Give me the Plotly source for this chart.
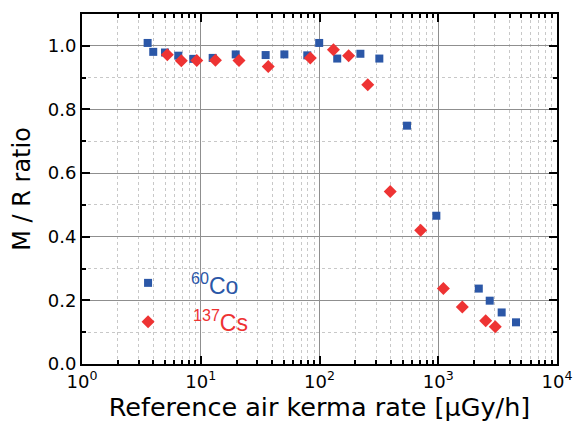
import plotly.graph_objects as go

co_x = [3.57, 3.98, 5.0, 6.47, 8.65, 12.6, 19.7, 35.2, 50.6, 78.9, 99.4, 141, 221, 319, 546, 964, 2195, 2713, 3420, 4518]
co_y = [1.009, 0.981, 0.979, 0.969, 0.959, 0.962, 0.973, 0.971, 0.973, 0.970, 1.009, 0.960, 0.975, 0.960, 0.749, 0.466, 0.237, 0.199, 0.162, 0.131]
cs_x = [5.23, 6.86, 9.25, 13.3, 21.0, 37.0, 83.7, 131, 176, 255, 394, 711, 1104, 1595, 2510, 3020]
cs_y = [0.972, 0.953, 0.954, 0.955, 0.954, 0.935, 0.962, 0.988, 0.969, 0.878, 0.542, 0.420, 0.237, 0.179, 0.136, 0.117]

legend_x = [3.6]
legend_co_y = [0.255]
legend_cs_y = [0.133]

x_tickvals = [1, 10, 100, 1000, 10000]
x_ticktext = ["10<sup>0</sup>", "10<sup>1</sup>", "10<sup>2</sup>", "10<sup>3</sup>", "10<sup>4</sup>"]

BLUE = "#2B57A7"
RED = "#EE3333"
FONT = "DejaVu Sans"
LFONT = "Liberation Sans"

fig = go.Figure()
fig.add_trace(go.Scatter(x=co_x, y=co_y, mode="markers",
                         marker=dict(symbol="square", size=8, color=BLUE), name="60Co"))
fig.add_trace(go.Scatter(x=cs_x, y=cs_y, mode="markers",
                         marker=dict(symbol="diamond", size=10, color=RED), name="137Cs"))
fig.add_trace(go.Scatter(x=legend_x, y=legend_co_y, mode="markers",
                         marker=dict(symbol="square", size=8, color=BLUE), showlegend=False))
fig.add_trace(go.Scatter(x=legend_x, y=legend_cs_y, mode="markers",
                         marker=dict(symbol="diamond", size=10, color=RED), showlegend=False))

fig.add_annotation(x=0.9, y=0.252, xref="x", yref="y", text="<sup>60</sup>Co", showarrow=False,
                   xanchor="left", yanchor="middle", font=dict(family=LFONT, size=23, color=BLUE))
fig.add_annotation(x=0.92, y=0.136, xref="x", yref="y", text="<sup>137</sup>Cs", showarrow=False,
                   xanchor="left", yanchor="middle", font=dict(family=LFONT, size=23, color=RED))

fig.update_layout(
    width=574, height=423,
    margin=dict(l=82, r=17, t=14, b=59),
    plot_bgcolor="white", paper_bgcolor="white",
    showlegend=False,
    font=dict(family=FONT, color="black"),
)
fig.update_xaxes(
    type="log", range=[0, 4], automargin=False,
    tickvals=x_tickvals, ticktext=x_ticktext,
    tickfont=dict(size=18),
    ticks="inside", ticklen=8, tickwidth=1.5, tickcolor="black",
    showline=True, linecolor="black", linewidth=2, mirror="allticks",
    showgrid=True, gridcolor="#8f8f8f", gridwidth=1.2,
    minor=dict(dtick="D1", ticks="inside", ticklen=4, tickcolor="black",
               showgrid=True, gridcolor="#c8c8c8", griddash="dot", gridwidth=1),
    title=dict(text="Reference air kerma rate [μGy/h]", font=dict(size=25.5), standoff=3),
    zeroline=False,
)
fig.update_yaxes(
    range=[0, 1.1], dtick=0.2, tick0=0, tickformat=".1f", automargin=False,
    tickfont=dict(size=18),
    ticks="inside", ticklen=8, tickwidth=1.5, tickcolor="black",
    showline=True, linecolor="black", linewidth=2, mirror="allticks",
    showgrid=True, gridcolor="#8f8f8f", gridwidth=1.2,
    minor=dict(dtick=0.1, ticks="inside", ticklen=4, tickcolor="black",
               showgrid=True, gridcolor="#c8c8c8", griddash="dot", gridwidth=1),
    title=dict(text="M / R ratio", font=dict(size=24), standoff=10),
    zeroline=False,
)

fig.write_html("out.html")
